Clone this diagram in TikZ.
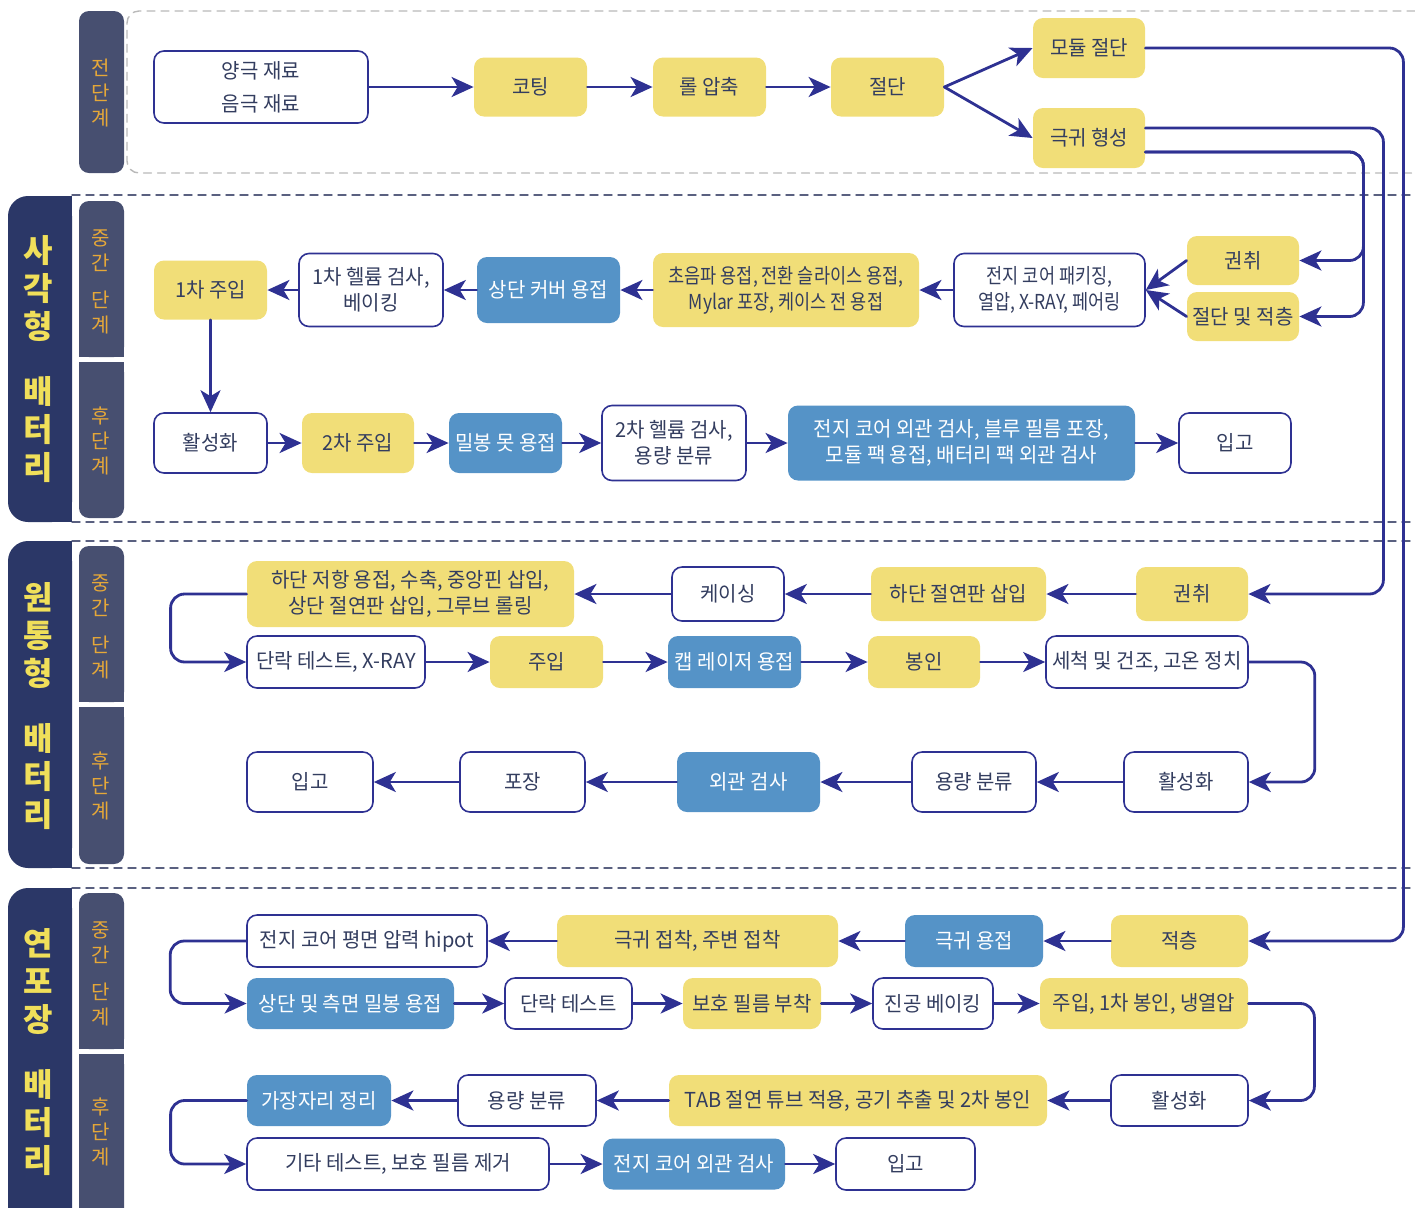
\documentclass[tikz,border=0pt]{standalone}
\usepackage{fontspec}
\setmainfont{Noto Sans CJK KR}[FakeStretch=0.97]
\newfontfamily\catfont{Noto Sans CJK KR}
\newfontfamily\narrowfont{Noto Sans CJK KR}[FakeStretch=0.85]
\usetikzlibrary{arrows.meta}

\begin{document}
\begin{tikzpicture}[x=0.5pt, y=-0.5pt, line join=round, line cap=round,
		>={Stealth[length=11pt,width=10pt,inset=3pt]},
		font=\fontsize{10.3}{13}\selectfont,
		box/.style={rounded corners=5pt, inner sep=0pt, align=center, text=txt},
		ybox/.style={box, fill=nodey},
		bbox/.style={box, fill=nodeb, text=white},
		wbox/.style={box, draw=arrowc, line width=0.8pt, fill=white},
		narrow/.style={font=\narrowfont\fontsize{10.3}{13}\selectfont},
		sz/.style 2 args={minimum width=#1*0.5pt, minimum height=#2*0.5pt},
		arr/.style={->, draw=arrowc, line width=1.4pt, rounded corners=7pt},
		cattext/.style={text=catc, align=center, font=\catfont\bfseries\fontsize{16}{19}\selectfont},
		stagetext/.style={text=stagec, align=center, font=\catfont\fontsize{10}{12.5}\selectfont},
		sepline/.style={draw=sepc, line width=0.7pt, dash pattern=on 4pt off 3pt}]
	\definecolor{navy}{HTML}{2B3767}
	\definecolor{slate}{HTML}{474F70}
	\definecolor{catc}{HTML}{F0DF5A}
	\definecolor{stagec}{HTML}{E6A838}
	\definecolor{nodey}{HTML}{F1DE78}
	\definecolor{nodeb}{HTML}{5593C7}
	\definecolor{arrowc}{HTML}{2E3192}
	\definecolor{txt}{HTML}{333D5F}
	\definecolor{sepc}{HTML}{5A6080}
	\useasboundingbox (0,0) rectangle (1415,1207);
	
	% frames and side bars
	\draw[gray!55, line width=0.7pt, dash pattern=on 4pt off 3pt, rounded corners=6pt]
		(1415,11) -- (127,11) -- (127,173) -- (1415,173);
	\foreach \y in {195,522,541,868,888}
		\draw[sepline] (72,\y) -- (1415,\y);
	\foreach \a/\b in {196/522,541/868,888/1240}{
		\fill[navy, rounded corners=10pt] (8,\a) rectangle (72,\b);
		\fill[navy] (40,\a) rectangle (72,\b);
	}
	\fill[slate, rounded corners=5pt] (79,11) rectangle (124,173);
	\foreach \a/\b/\c/\d in {201/357/362/518,546/702/707/864,893/1049/1054/1230}{
		\fill[slate, rounded corners=5pt] (79,\a) rectangle (124,\b);
		\fill[slate] (79,\a+30) rectangle (124,\b);
		\fill[slate, rounded corners=5pt] (79,\c) rectangle (124,\d);
		\fill[slate] (79,\c) rectangle (124,\d-30);
	}
	\node[cattext] (catsq) at (38,359) {사\\각\\형\\[13.5pt]배\\터\\리};
	\node[cattext] (catcy) at (38,706) {원\\통\\형\\[13.5pt]배\\터\\리};
	\node[cattext] (catpo) at (38,1052) {연\\포\\장\\[13.5pt]배\\터\\리};
	\node[stagetext] (st0) at (101,93) {전\\단\\계};
	\node[stagetext] (st1) at (101,282) {중\\간\\[6pt]단\\계};
	\node[stagetext] (st2) at (101,441) {후\\단\\계};
	\node[stagetext] (st3) at (101,627) {중\\간\\[6pt]단\\계};
	\node[stagetext] (st4) at (101,786) {후\\단\\계};
	\node[stagetext] (st5) at (101,974) {중\\간\\[6pt]단\\계};
	\node[stagetext] (st6) at (101,1132) {후\\단\\계};
	
	% front stage
	\node[wbox, sz={214}{72}] (raw) at (261,87) {양극 재료\\[3.5pt]음극 재료};
	\node[ybox, sz={113}{59}] (coat) at (530.5,87) {코팅};
	\node[ybox, sz={113}{59}] (press) at (709.5,87) {롤 압축};
	\node[ybox, sz={113}{59}] (cut) at (887.5,87) {절단};
	\node[ybox, sz={112}{60}] (modcut) at (1089,48) {모듈 절단};
	\node[ybox, sz={112}{60}] (tab) at (1089,138) {극귀 형성};
	
	% prismatic
	\node[ybox, sz={113}{59}] (pinj1) at (210.5,290) {1차 주입};
	\node[wbox, sz={144}{73}] (phe1) at (371,290) {1차 헬륨 검사,\\베이킹};
	\node[bbox, sz={143}{66}] (pcover) at (548.5,290) {상단 커버 용접};
	\node[ybox, narrow, sz={266}{74}] (pweld) at (786,290) {초음파 용접, 전환 슬라이스 용접,\\Mylar 포장, 케이스 전 용접};
	\node[wbox, narrow, sz={191}{73}] (ppack) at (1049.5,290) {전지 코어 패키징,\\열압, X-RAY, 페어링};
	\node[ybox, sz={112}{49}] (pwind) at (1243,260.5) {권취};
	\node[ybox, sz={112}{49}] (pcut) at (1243,316.5) {절단 및 적층};
	\node[wbox, sz={113}{60}] (pact) at (210.5,443) {활성화};
	\node[ybox, sz={112}{60}] (pinj2) at (358,443) {2차 주입};
	\node[bbox, sz={113}{60}] (pnail) at (505.5,443) {밀봉 못 용접};
	\node[wbox, sz={144}{75}] (phe2) at (674,443) {2차 헬륨 검사,\\용량 분류};
	\node[bbox, sz={347}{75}] (pvis) at (961.5,443) {전지 코어 외관 검사, 블루 필름 포장,\\모듈 팩 용접, 배터리 팩 외관 검사};
	\node[wbox, sz={112}{60}] (pstore) at (1235,443) {입고};
	
	% cylindrical
	\node[ybox, sz={327}{66}] (cweld) at (410.5,594) {하단 저항 용접, 수축, 중앙핀 삽입,\\상단 절연판 삽입, 그루브 롤링};
	\node[wbox, sz={112}{54}] (ccase) at (728,594) {케이싱};
	\node[ybox, sz={175}{54}] (cins) at (958.5,594) {하단 절연판 삽입};
	\node[ybox, sz={112}{54}] (cwind) at (1192,594) {권취};
	\node[wbox, sz={178}{52}] (cshort) at (336,662) {단락 테스트, X-RAY};
	\node[ybox, sz={113}{52}] (cinj) at (546.5,662) {주입};
	\node[bbox, sz={133}{52}] (claser) at (734.5,662) {캡 레이저 용접};
	\node[ybox, sz={112}{52}] (cseal) at (924,662) {봉인};
	\node[wbox, sz={202}{52}] (cdry) at (1147,662) {세척 및 건조, 고온 정치};
	\node[wbox, sz={126}{60}] (cstore) at (310,782) {입고};
	\node[wbox, sz={125}{60}] (cpack) at (522.5,782) {포장};
	\node[bbox, sz={143}{60}] (cvis) at (748.5,782) {외관 검사};
	\node[wbox, sz={124}{60}] (csort) at (974,782) {용량 분류};
	\node[wbox, sz={124}{60}] (cact) at (1186,782) {활성화};
	
	% pouch
	\node[wbox, sz={240}{52}] (fhipot) at (367,941) {전지 코어 평면 압력 hipot};
	\node[ybox, sz={281}{52}] (fglue) at (697.5,941) {극귀 접착, 주변 접착};
	\node[bbox, sz={138}{52}] (ftabw) at (974,941) {극귀 용접};
	\node[ybox, sz={137}{52}] (fstack) at (1179.5,941) {적층};
	\node[bbox, sz={207}{51}] (fseal) at (350.5,1003.5) {상단 및 측면 밀봉 용접};
	\node[wbox, sz={127}{51}] (fshort) at (568.5,1003.5) {단락 테스트};
	\node[ybox, sz={138}{51}] (ffilm) at (752,1003.5) {보호 필름 부착};
	\node[wbox, sz={120}{51}] (fbake) at (933,1003.5) {진공 베이킹};
	\node[ybox, sz={208}{51}] (finj) at (1144,1003.5) {주입, 1차 봉인, 냉열압};
	\node[bbox, sz={144}{51}] (ftrim) at (319,1100.5) {가장자리 정리};
	\node[wbox, sz={138}{51}] (fsort) at (527,1100.5) {용량 분류};
	\node[ybox, sz={378}{51}] (ftube) at (858,1100.5) {TAB 절연 튜브 적용, 공기 추출 및 2차 봉인};
	\node[wbox, sz={137}{51}] (fact) at (1179.5,1100.5) {활성화};
	\node[wbox, sz={302}{52}] (ftest) at (398,1164) {기타 테스트, 보호 필름 제거};
	\node[bbox, sz={182}{51}] (fvis) at (694,1164) {전지 코어 외관 검사};
	\node[wbox, sz={139}{52}] (fstore) at (905.5,1164) {입고};
	
	% connectors
	\draw[arr] (raw) -- (coat);
	\draw[arr] (coat) -- (press);
	\draw[arr] (press) -- (cut);
	\draw[arr] (cut.east) -- (modcut.west);
	\draw[arr] (cut.east) -- (tab.west);
	\draw[arr] (modcut.east) -- ++(258,0) |- (fstack.east);
	\draw[arr] ([yshift=5pt]tab.east) -- ++(238,0) |- (cwind.east);
	\draw[arr] ([yshift=-7pt]tab.east) -- ++(218,0) |- (pwind.east);
	\draw[arr] ([yshift=-7pt]tab.east) -- ++(218,0) |- (pcut.east);
	
	\draw[arr] (pwind.west) -- (ppack.east);
	\draw[arr] (pcut.west) -- (ppack.east);
	\draw[arr] (ppack) -- (pweld);
	\draw[arr] (pweld) -- (pcover);
	\draw[arr] (pcover) -- (phe1);
	\draw[arr] (phe1) -- (pinj1);
	\draw[arr] (pinj1) -- (pact);
	\draw[arr] (pact) -- (pinj2);
	\draw[arr] (pinj2) -- (pnail);
	\draw[arr] (pnail) -- (phe2);
	\draw[arr] (phe2) -- (pvis);
	\draw[arr] (pvis) -- (pstore);
	
	\draw[arr] (cwind) -- (cins);
	\draw[arr] (cins) -- (ccase);
	\draw[arr] (ccase) -- (cweld);
	\draw[arr] (cweld.west) -- ++(-76,0) |- (cshort.west);
	\draw[arr] (cshort) -- (cinj);
	\draw[arr] (cinj) -- (claser);
	\draw[arr] (claser) -- (cseal);
	\draw[arr] (cseal) -- (cdry);
	\draw[arr] (cdry.east) -- ++(66,0) |- (cact.east);
	\draw[arr] (cact) -- (csort);
	\draw[arr] (csort) -- (cvis);
	\draw[arr] (cvis) -- (cpack);
	\draw[arr] (cpack) -- (cstore);
	
	\draw[arr] (fstack) -- (ftabw);
	\draw[arr] (ftabw) -- (fglue);
	\draw[arr] (fglue) -- (fhipot);
	\draw[arr] (fhipot.west) -- ++(-76,0) |- (fseal.west);
	\draw[arr] (fseal) -- (fshort);
	\draw[arr] (fshort) -- (ffilm);
	\draw[arr] (ffilm) -- (fbake);
	\draw[arr] (fbake) -- (finj);
	\draw[arr] (finj.east) -- ++(66,0) |- (fact.east);
	\draw[arr] (fact) -- (ftube);
	\draw[arr] (ftube) -- (fsort);
	\draw[arr] (fsort) -- (ftrim);
	\draw[arr] (ftrim.west) -- ++(-76,0) |- (ftest.west);
	\draw[arr] (ftest) -- (fvis);
	\draw[arr] (fvis) -- (fstore);
\end{tikzpicture}
\end{document}
